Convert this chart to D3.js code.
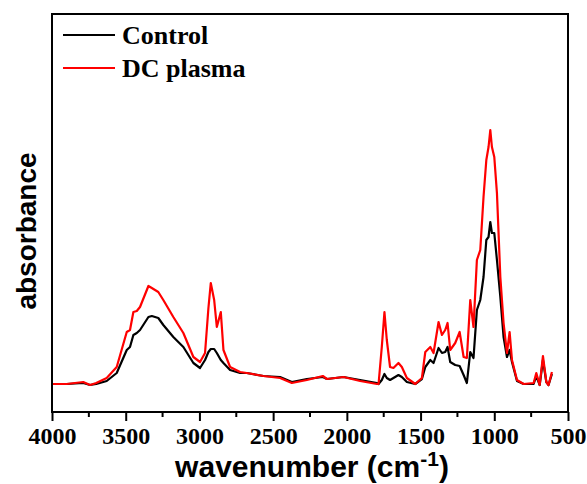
<!DOCTYPE html>
<html>
<head>
<meta charset="utf-8">
<script src="https://cdn.jsdelivr.net/npm/d3@7"></script>
<style>
  body { margin: 0; background: #fff; }
</style>
</head>
<body>
<script>
// wavenumbers (cm-1)
var wavenumber = [3993, 3900, 3788, 3742, 3700, 3629, 3561, 3493, 3471, 3448, 3425, 3403, 3346, 3323, 3279, 3245,
    3177, 3109, 3041, 2996, 2962, 2939, 2923, 2900, 2882, 2855, 2837, 2792, 2724, 2679, 2566, 2453, 2373, 2271,
    2163, 2135, 2023, 1910, 1796, 1785, 1763, 1745, 1729, 1707, 1684, 1650, 1627, 1593, 1536, 1491, 1468, 1434,
    1412, 1378, 1355, 1333, 1317, 1299, 1265, 1235, 1208, 1186, 1163, 1141, 1118, 1095, 1073, 1054, 1039, 1027,
    1016, 1000, 982, 959, 937, 914, 896, 880, 846, 801, 733, 715, 692, 670, 647, 632, 609];

var dcPlasma = [0.28, 0.28, 0.30, 0.27, 0.29, 0.34, 0.45, 0.80, 0.82, 1.00, 1.01, 1.05, 1.26, 1.24, 1.20, 1.12,
    0.95, 0.79, 0.55, 0.50, 0.59, 1.04, 1.29, 1.12, 0.85, 1.00, 0.62, 0.45, 0.40, 0.39, 0.36, 0.34, 0.29, 0.32,
    0.36, 0.33, 0.35, 0.31, 0.28, 0.28, 0.65, 1.00, 0.72, 0.45, 0.44, 0.49, 0.45, 0.34, 0.28, 0.34, 0.60, 0.65,
    0.59, 0.90, 0.77, 0.82, 0.89, 0.62, 0.69, 0.80, 0.55, 0.54, 1.12, 0.85, 1.52, 1.62, 2.15, 2.52, 2.65, 2.82,
    2.65, 2.55, 2.19, 1.35, 0.89, 0.59, 0.80, 0.52, 0.32, 0.28, 0.29, 0.39, 0.27, 0.56, 0.30, 0.27, 0.40];

var control = [0.28, 0.28, 0.29, 0.27, 0.28, 0.31, 0.39, 0.62, 0.65, 0.77, 0.79, 0.82, 0.95, 0.96, 0.94, 0.87,
    0.75, 0.65, 0.49, 0.44, 0.52, 0.60, 0.63, 0.63, 0.59, 0.52, 0.49, 0.42, 0.39, 0.39, 0.36, 0.35, 0.30, 0.33,
    0.35, 0.33, 0.35, 0.32, 0.29, 0.28, 0.32, 0.38, 0.34, 0.32, 0.34, 0.37, 0.35, 0.30, 0.28, 0.33, 0.45, 0.52,
    0.49, 0.64, 0.59, 0.60, 0.65, 0.50, 0.47, 0.46, 0.37, 0.29, 0.60, 0.54, 1.02, 1.12, 1.35, 1.72, 1.75, 1.90,
    1.79, 1.79, 1.52, 1.15, 0.75, 0.55, 0.62, 0.50, 0.31, 0.28, 0.28, 0.36, 0.27, 0.52, 0.30, 0.27, 0.38];

var xTicks = [4000, 3500, 3000, 2500, 2000, 1500, 1000, 500];
var seriesNames = ["Control", "DC plasma"];
var seriesColors = ["#000000", "#ff0000"];

var width = 587, height = 484;
var plotLeft = 52, plotRight = 568, plotTop = 14, plotBottom = 412;

var svg = d3.select("body").append("svg").attr("width", width).attr("height", height);

var x = d3.scaleLinear().domain([4000, 500]).range([plotLeft, plotRight]);
var y = d3.scaleLinear().domain([0, 3.98]).range([plotBottom, plotTop]);

// spectra
var line = d3.line()
    .x(function (d) { return x(d[0]); })
    .y(function (d) { return y(d[1]); });

[control, dcPlasma].forEach(function (vals, k) {
    svg.append("path")
        .datum(wavenumber.map(function (w, i) { return [w, vals[i]]; }))
        .attr("d", line)
        .attr("fill", "none")
        .attr("stroke", seriesColors[k])
        .attr("stroke-width", 2.2)
        .attr("stroke-linejoin", "round");
});

// frame
svg.append("rect")
    .attr("x", plotLeft).attr("y", plotTop)
    .attr("width", plotRight - plotLeft).attr("height", plotBottom - plotTop)
    .attr("fill", "none").attr("stroke", "#000").attr("stroke-width", 2);

// x axis
var xAxis = svg.append("g")
    .attr("transform", "translate(0," + plotBottom + ")")
    .call(d3.axisBottom(x).tickValues(xTicks).tickFormat(d3.format("d"))
        .tickSize(9).tickSizeOuter(0).tickPadding(6));
xAxis.select(".domain").remove();
xAxis.selectAll("line").attr("stroke-width", 2);
xAxis.selectAll("text")
    .attr("font-family", "'Liberation Serif', 'Times New Roman', serif")
    .attr("font-weight", "bold")
    .attr("font-size", 24)
    .attr("fill", "#000");

var minor = d3.range(3750, 500, -500);
svg.append("g").selectAll("line")
    .data(minor)
    .enter()
    .append("line")
    .attr("x1", function (d) { return x(d); })
    .attr("x2", function (d) { return x(d); })
    .attr("y1", plotBottom)
    .attr("y2", plotBottom + 5)
    .attr("stroke", "#000")
    .attr("stroke-width", 2);

// titles
var xTitle = svg.append("text")
    .attr("x", 312)
    .attr("y", 477)
    .attr("text-anchor", "middle")
    .attr("font-family", "'Liberation Sans', Arial, sans-serif")
    .attr("font-weight", "bold")
    .attr("font-size", 30)
    .text("wavenumber (cm");
xTitle.append("tspan").attr("font-size", 21).attr("dy", -11).text("-1");
xTitle.append("tspan").attr("dy", 11).text(")");

svg.append("text")
    .attr("transform", "translate(36,231) rotate(-90)")
    .attr("text-anchor", "middle")
    .attr("font-family", "'Liberation Sans', Arial, sans-serif")
    .attr("font-weight", "bold")
    .attr("font-size", 28)
    .text("absorbance");

// legend
var legend = svg.append("g").selectAll("g")
    .data(seriesNames)
    .enter()
    .append("g")
    .attr("transform", function (d, i) { return "translate(63," + (35 + i * 33) + ")"; });
legend.append("line")
    .attr("x1", 0).attr("x2", 52)
    .attr("stroke", function (d, i) { return seriesColors[i]; })
    .attr("stroke-width", 2);
legend.append("text")
    .attr("x", 59)
    .attr("y", 9)
    .attr("font-family", "'Liberation Serif', 'Times New Roman', serif")
    .attr("font-weight", "bold")
    .attr("font-size", 26)
    .text(function (d) { return d; });
</script>
</body>
</html>
